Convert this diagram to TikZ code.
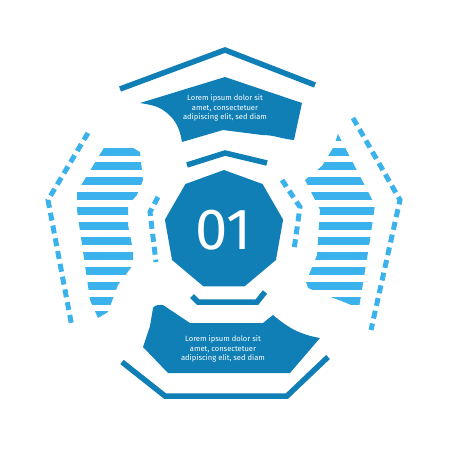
\documentclass[tikz,border=0pt]{standalone}
\usepackage{fontspec}
\setmainfont{Fira Sans}
\usetikzlibrary{shapes.geometric}
\definecolor{deepblue}{RGB}{16,127,182}
\definecolor{skyblue}{RGB}{60,178,236}
\def\pitch{14.9}
\def\barh{8}

\begin{document}
\begin{tikzpicture}[x=1pt, y=-1pt]
	\tikzset{band/.style={draw=deepblue, line width=5.5pt, line join=miter},
		dashline/.style={draw=skyblue, line width=5pt, dash pattern=on 8pt off 5pt},
		blurb/.style={text=white, align=center, font=\fontsize{7.6}{9.4}\selectfont}}
	\useasboundingbox (0,0) rectangle (450,450);
	% outer chevrons
	\draw[band] (120,89) -- (225,50) -- (315,85);
	\draw[band] (122,362) -- (165,396) -- (287,396) -- (328,357);
	% inner chevrons
	\draw[band] (187,165) -- (225,153) -- (267,163);
	\draw[band] (192,296) -- (198,302) -- (257,302) -- (265,292);
	% text panels
	\fill[deepblue] (140,103) -- (225,77) -- (302,103) -- (294,140)
		to[out=175,in=0] (262,135) -- (223,130) -- (182,142)
		to[out=100,in=-40] (167,113) to[out=140,in=-10] cycle;
	\fill[deepblue] (153,308) to[out=60,in=180] (163,305) -- (190,323) -- (263,323)
		-- (273,315) to[out=-40,in=170] (320,338) -- (290,373) -- (168,373)
		-- (143,347) -- (150,326) -- cycle;
	\node[blurb] (topnote) at (225,108) {Lorem ipsum dolor sit\\amet, consectetuer\\adipiscing elit, sed diam};
	\node[blurb] (botnote) at (223,349) {Lorem ipsum dolor sit\\amet, consectetuer\\adipiscing elit, sed diam};
	% centre badge
	\node[regular polygon, regular polygon sides=9, minimum size=120pt, inner sep=0pt,
		fill=deepblue, text=white, font=\fontsize{58}{58}\selectfont] (badge) at (224,230) {01};
	% striped wings
	\begin{scope}
		\clip (105,146) -- (130,146) -- (140,152) -- (143,180) -- (137,195) -- (128,205)
			-- (128,225) -- (133,250) -- (133,265) -- (118,285) -- (108,312) -- (98,318)
			-- (90,300) -- (77,210) -- (77,192) -- cycle;
		\foreach \k in {0,...,13}
			\fill[skyblue] (60,{132.6+\pitch*\k}) rectangle (160,{132.6+\pitch*\k+\barh});
	\end{scope}
	\begin{scope}
		\clip (338,134) -- (375,205) -- (370,240) -- (359,308) -- (308,288) -- (306,282)
			-- (317,255) -- (320,210) -- (305,180) -- (322,166) -- (333,148) -- cycle;
		\foreach \k in {0,...,13}
			\fill[skyblue] (290,{132.6+\pitch*\k}) rectangle (390,{132.6+\pitch*\k+\barh});
	\end{scope}
	% dashed arcs
	\draw[dashline] (88,133) -- (48,200) -- (72,327);
	\draw[dashline] (158,197) -- (150,212) -- (156,262);
	\draw[dashline] (353,118) -- (400,200) -- (371,330);
	\draw[dashline] (282,180) -- (300,207) -- (294,250);
\end{tikzpicture}
\end{document}
